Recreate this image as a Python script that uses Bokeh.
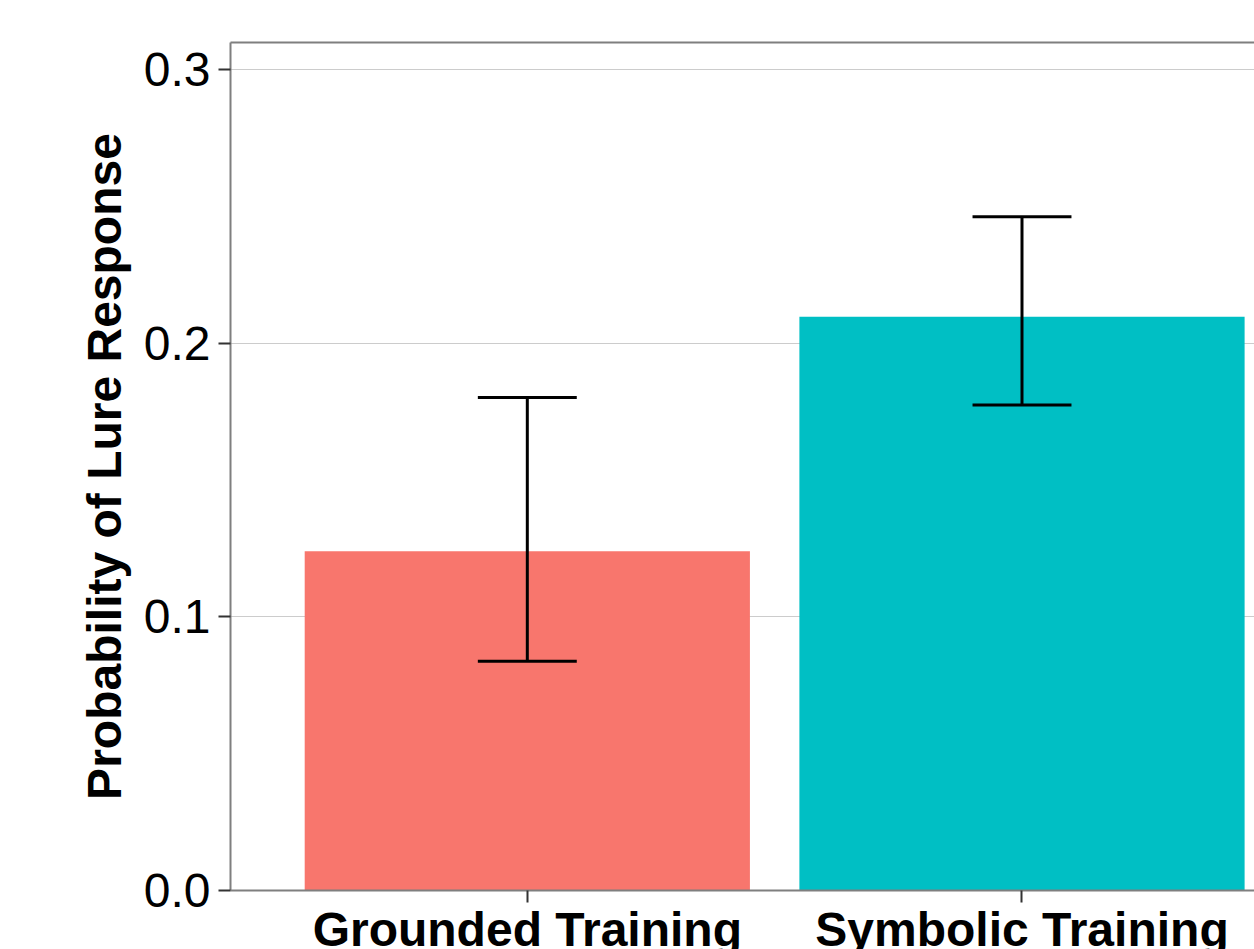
from bokeh.plotting import figure
from bokeh.models import Range1d, FixedTicker, LinearAxis
from bokeh.embed import file_html
from bokeh.resources import INLINE

categories = ["Grounded Training", "Symbolic Training"]
positions = [1, 2]
means = [0.124, 0.2097]
err_low = [0.0838, 0.1775]
err_high = [0.1802, 0.2463]
colors = ["#F8766D", "#00BFC4"]
y_ticks = [0.0, 0.1, 0.2, 0.3]
y_tick_labels = ["0.0", "0.1", "0.2", "0.3"]

p = figure(width=1254, height=958, output_backend="svg", toolbar_location=None,
           x_range=Range1d(0.4, 2.47), y_range=Range1d(0, 0.31),
           min_border_left=230, min_border_top=42, min_border_right=0,
           min_border_bottom=0)
p.outline_line_color = None
p.background_fill_color = "white"

p.vbar(x=positions, top=means, width=0.9, bottom=0, color=colors, line_color=None)

half_cap = 0.1
p.segment(x0=positions, y0=err_low, x1=positions, y1=err_high, line_color="black", line_width=3)
p.segment(x0=[x - half_cap for x in positions], y0=err_low,
          x1=[x + half_cap for x in positions], y1=err_low, line_color="black", line_width=3)
p.segment(x0=[x - half_cap for x in positions], y0=err_high,
          x1=[x + half_cap for x in positions], y1=err_high, line_color="black", line_width=3)

# grid
p.xgrid.grid_line_color = None
p.ygrid.grid_line_color = "#cccccc"
p.ygrid.grid_line_width = 1.2
p.ygrid.ticker = FixedTicker(ticks=y_ticks)

# y axis
ya = p.yaxis[0]
ya.ticker = FixedTicker(ticks=y_ticks)
ya.major_label_overrides = {t: l for t, l in zip(y_ticks, y_tick_labels)}
ya.axis_label = "Probability of Lure Response"
ya.axis_label_text_font = "Liberation Sans"
ya.axis_label_text_font_style = "bold"
ya.axis_label_text_font_size = "48px"
ya.axis_label_text_color = "black"
ya.axis_label_standoff = 10
ya.major_label_text_font = "Liberation Sans"
ya.major_label_text_font_size = "48px"
ya.major_label_text_color = "black"
ya.major_label_standoff = 8
ya.major_tick_out = 12
ya.major_tick_in = 0
ya.minor_tick_line_color = None
ya.major_tick_line_color = "#333333"
ya.major_tick_line_width = 2
ya.axis_line_color = "#7f7f7f"
ya.axis_line_width = 2

# x axis
xa = p.xaxis[0]
xa.ticker = FixedTicker(ticks=positions)
xa.major_label_overrides = {pos: c for pos, c in zip(positions, categories)}
xa.major_label_text_font = "Liberation Sans"
xa.major_label_text_font_style = "bold"
xa.major_label_text_font_size = "48px"
xa.major_label_text_color = "black"
xa.major_label_standoff = 0
xa.major_tick_out = 12
xa.major_tick_in = 0
xa.minor_tick_line_color = None
xa.major_tick_line_color = "#333333"
xa.major_tick_line_width = 2
xa.axis_line_color = "#7f7f7f"
xa.axis_line_width = 2

# top border line
top = LinearAxis(ticker=FixedTicker(ticks=[]), major_label_text_font_size="0px",
                 major_tick_line_color=None, minor_tick_line_color=None,
                 axis_line_color="#7f7f7f", axis_line_width=2)
p.add_layout(top, "above")

open("out.html", "w").write(file_html(p, INLINE))
